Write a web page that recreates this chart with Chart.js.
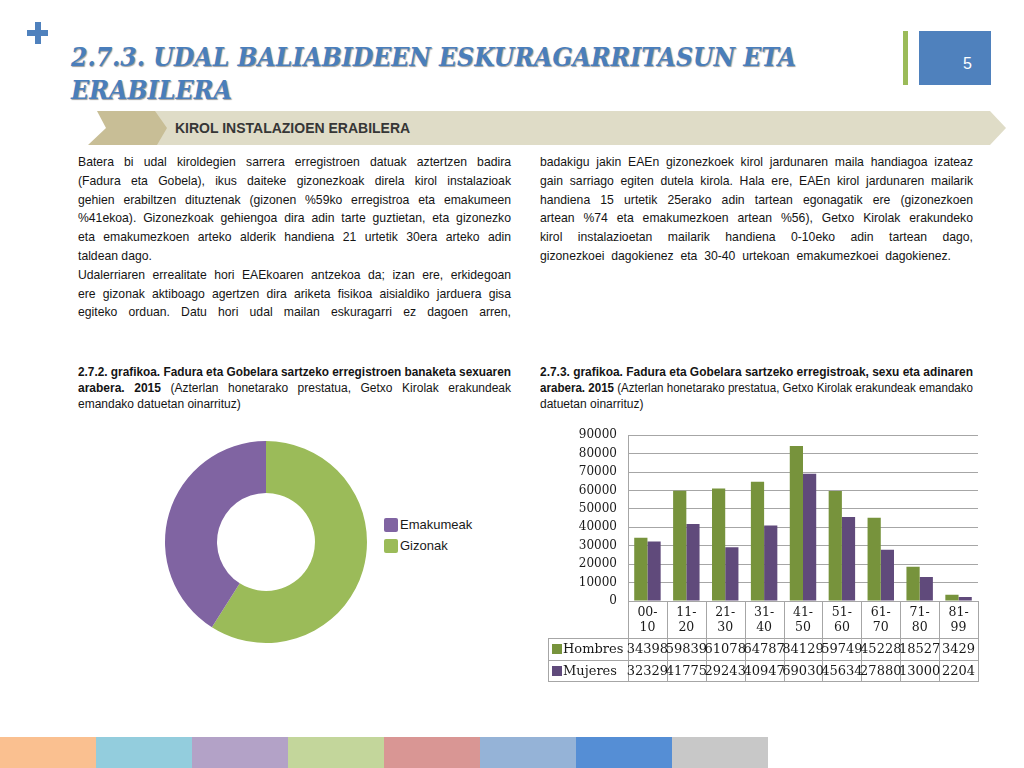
<!DOCTYPE html>
<html>
<head>
<meta charset="utf-8">
<script src="https://cdn.jsdelivr.net/npm/chart.js@4.4.1/dist/chart.umd.min.js"></script>
<style>
  body { margin: 0; width: 1024px; height: 768px; position: relative; overflow: hidden; background: #fff;
         font-family: "Liberation Sans", Arial, sans-serif; color: #141414; }
  .abs { position: absolute; }
  .ln { white-space: nowrap; }
  .ln > span { white-space: nowrap; }
  .title { font-family: "DejaVu Serif", serif; font-weight: bold; font-style: italic; font-size: 26px;
           line-height: 33px; color: #4a7ebb; text-shadow: 1px 1px 1px rgba(40,40,40,0.45); }
  .para { font-size: 12.2px; line-height: 18.8px; }
  .cap { font-size: 12px; line-height: 16px; }
  .strip { position: absolute; top: 737px; height: 31px; width: 96px; }
  .leg { position: absolute; left: 384px; font-size: 13px; line-height: 15px; color: #1a1a1a; }
  .leg i { display: inline-block; width: 14px; height: 14px; border-radius: 2px; vertical-align: -3px; margin-right: 2px; }
</style>
</head>
<body>

<!-- plus sign -->
<div class="abs" style="left:27px;top:30px;width:21px;height:6px;background:#4f81bd"></div>
<div class="abs" style="left:34.5px;top:22px;width:6px;height:22px;background:#4f81bd"></div>

<div id="title" class="abs title" style="left:71px;top:41px"></div>

<!-- page number -->
<div class="abs" style="left:903px;top:31px;width:5px;height:54px;background:#9bbb59"></div>
<div class="abs" style="left:919px;top:31px;width:72px;height:54px;background:#4f81bd"></div>
<div class="abs" style="left:963px;top:55px;font-size:16px;color:#fff">5</div>

<!-- section band -->
<svg class="abs" style="left:0;top:0" width="1024" height="160">
  <polygon points="150,111 990,111 1006,128 990,145 150,145" fill="#dfdcc7"/>
  <polygon points="97,111 155,111 167,128 157,145 88,145 106,128" fill="#c8be96"/>
</svg>
<div id="band" class="abs" style="left:175px;top:119px;font-size:14px;font-weight:bold;color:#363636;line-height:18px"></div>

<div id="paraL" class="abs para" style="left:78px;top:153px"></div>
<div id="paraR" class="abs para" style="left:540px;top:153px"></div>
<div id="capL" class="abs cap" style="left:78px;top:364px"></div>
<div id="capR" class="abs cap" style="left:540px;top:364px"></div>

<canvas id="donut" class="abs" style="left:160px;top:436px" width="212" height="212"></canvas>
<div id="donutLegend"></div>
<canvas id="bars" class="abs" style="left:540px;top:417px" width="445" height="270"></canvas>

<div class="strip" style="left:0;background:#fac090"></div>
<div class="strip" style="left:96px;background:#93cddd"></div>
<div class="strip" style="left:192px;background:#b3a2c7"></div>
<div class="strip" style="left:288px;background:#c3d69b"></div>
<div class="strip" style="left:384px;background:#d99694"></div>
<div class="strip" style="left:480px;background:#95b3d7"></div>
<div class="strip" style="left:576px;background:#558ed5"></div>
<div class="strip" style="left:672px;background:#c8c8c8"></div>

<script>
// chart data
const sexLabels = ['Gizonak', 'Emakumeak'];
const sexShare = [59, 41];

const ageGroups = [['00-', '10'], ['11-', '20'], ['21-', '30'], ['31-', '40'], ['41-', '50'],
                   ['51-', '60'], ['61-', '70'], ['71-', '80'], ['81-', '99']];
const hombres = [34398, 59839, 61078, 64787, 84129, 59749, 45228, 18527, 3429];
const mujeres = [32329, 41775, 29243, 40947, 69030, 45634, 27880, 13000, 2204];
const yTicks = [0, 10000, 20000, 30000, 40000, 50000, 60000, 70000, 80000, 90000];

// slide text, one entry per printed line; j = justified, optional third item = printed width
const titleLines = [
  ['2.7.3. UDAL BALIABIDEEN ESKURAGARRITASUN ETA', 725],
  ['ERABILERA', 161]
];
const paraLeft = [
  ['Batera bi udal kiroldegien sarrera erregistroen datuak aztertzen badira', 1],
  ['(Fadura eta Gobela), ikus daiteke gizonezkoak direla kirol instalazioak', 1],
  ['gehien erabiltzen dituztenak (gizonen %59ko erregistroa eta emakumeen', 1],
  ['%41ekoa). Gizonezkoak gehiengoa dira adin tarte guztietan, eta gizonezko', 1],
  ['eta emakumezkoen arteko alderik handiena 21 urtetik 30era arteko adin', 1],
  ['taldean dago.', 0],
  ['Udalerriaren errealitate hori EAEkoaren antzekoa da; izan ere, erkidegoan', 1],
  ['ere gizonak aktiboago agertzen dira ariketa fisikoa aisialdiko jarduera gisa', 1],
  ['egiteko orduan. Datu hori udal mailan eskuragarri ez dagoen arren,', 1]
];
const paraRight = [
  ['badakigu jakin EAEn gizonezkoek kirol jardunaren maila handiagoa izateaz', 1],
  ['gain sarriago egiten dutela kirola. Hala ere, EAEn kirol jardunaren mailarik', 1],
  ['handiena 15 urtetik 25erako adin tartean egonagatik ere (gizonezkoen', 1],
  ['artean %74 eta emakumezkoen artean %56), Getxo Kirolak erakundeko', 1],
  ['kirol instalazioetan mailarik handiena 0-10eko adin tartean dago,', 1],
  ['gizonezkoei dagokienez eta 30-40 urtekoan emakumezkoei dagokienez.', 1, 411]
];
const capLeft = [
  ['<b>2.7.2. grafikoa. Fadura eta Gobelara sartzeko erregistroen banaketa sexuaren</b>', 1],
  ['<b>arabera. 2015</b> (Azterlan honetarako prestatua, Getxo Kirolak erakundeak', 1],
  ['emandako datuetan oinarrituz)', 0]
];
const capRight = [
  ['<b>2.7.3. grafikoa. Fadura eta Gobelara sartzeko erregistroak, sexu eta adinaren</b>', 1],
  ['<b>arabera. 2015</b> (Azterlan honetarako prestatua, Getxo Kirolak erakundeak emandako', 1],
  ['datuetan oinarrituz)', 0]
];

// squeeze or stretch a line to its printed width
function fitLine(div, w, justify) {
  const span = div.firstElementChild;
  const nat = span.getBoundingClientRect().width;
  if (nat > w) {
    span.style.display = 'inline-block';
    span.style.transformOrigin = '0 0';
    span.style.transform = 'scaleX(' + (w / nat) + ')';
  } else if (justify) {
    const gaps = (span.textContent.trim().match(/ +/g) || []).length;
    if (gaps) span.style.wordSpacing = ((w - nat) / gaps) + 'px';
  }
}

function writeLines(id, lines, w) {
  const box = document.getElementById(id);
  lines.forEach(([html, j, lw]) => {
    const d = document.createElement('div');
    d.className = 'ln';
    d.innerHTML = '<span>' + html + '</span>';
    box.appendChild(d);
    fitLine(d, lw || w, j);
  });
}

writeLines('title', titleLines.map(([t]) => [t, 0]), 9999);
Array.from(document.getElementById('title').children).forEach((d, i) => fitLine(d, titleLines[i][1], 0));

const band = document.getElementById('band');
band.innerHTML = '<div class="ln"><span>KIROL INSTALAZIOEN ERABILERA</span></div>';
fitLine(band.firstElementChild, 262, 0);

writeLines('paraL', paraLeft, 433);
writeLines('paraR', paraRight, 433);
writeLines('capL', capLeft, 433);
writeLines('capR', capRight, 433);

Chart.defaults.font.family = '"Liberation Sans", Arial, sans-serif';
Chart.defaults.color = '#1a1a1a';
Chart.defaults.animation = false;

const donutColors = ['#9bbb59', '#8064a2'];
const donut = new Chart(document.getElementById('donut'), {
  type: 'doughnut',
  data: {
    labels: sexLabels,
    datasets: [{ data: sexShare, backgroundColor: donutColors, borderWidth: 0 }]
  },
  options: {
    responsive: false,
    cutout: '48.5%',
    layout: { padding: 5 },
    plugins: { tooltip: { enabled: false }, legend: { display: false } }
  }
});

// legend next to the doughnut, listed bottom slice first as on the slide
const legendBox = document.getElementById('donutLegend');
donut.data.labels.slice().reverse().forEach((lab, k) => {
  const idx = donut.data.labels.indexOf(lab);
  const d = document.createElement('div');
  d.className = 'leg';
  d.style.top = (517 + k * 20.5) + 'px';
  d.innerHTML = '<i style="background:' + donutColors[idx] + '"></i>' + lab;
  legendBox.appendChild(d);
});

// data table under the bar chart, drawn from the datasets and the x scale
const dataTable = {
  id: 'dataTable',
  afterDraw(chart) {
    const { ctx, chartArea: a, scales: { x } } = chart;
    const n = chart.data.labels.length;
    const cw = (a.right - a.left) / n;
    const r0 = a.bottom + 37, r1 = r0 + 22, r2 = r1 + 21;
    const left = 8;
    const px = v => Math.round(v) + 0.5;
    ctx.save();
    ctx.strokeStyle = '#a6a6a6';
    ctx.lineWidth = 1;
    ctx.beginPath();
    for (let i = 0; i <= n; i++) {
      ctx.moveTo(px(a.left + i * cw), a.bottom);
      ctx.lineTo(px(a.left + i * cw), px(r2));
    }
    [r0, r1, r2].forEach(yy => { ctx.moveTo(left, px(yy)); ctx.lineTo(a.right + 1, px(yy)); });
    ctx.moveTo(px(left), px(r0));
    ctx.lineTo(px(left), px(r2));
    ctx.stroke();
    ctx.textBaseline = 'middle';
    ctx.font = '13px "DejaVu Serif", serif';
    chart.data.datasets.forEach((ds, k) => {
      const cy = k === 0 ? (r0 + r1) / 2 : (r1 + r2) / 2;
      ctx.fillStyle = ds.backgroundColor;
      ctx.fillRect(left + 4, Math.round(cy - 5), 10, 10);
      ctx.fillStyle = '#1a1a1a';
      ctx.textAlign = 'left';
      ctx.fillText(ds.label, left + 15, cy + 1);
      ctx.textAlign = 'center';
      ds.data.forEach((v, i) => ctx.fillText(String(v), x.getPixelForValue(i), cy + 1));
    });
    ctx.restore();
  }
};

new Chart(document.getElementById('bars'), {
  type: 'bar',
  data: {
    labels: ageGroups,
    datasets: [
      { label: 'Hombres', data: hombres, backgroundColor: '#77933c', barPercentage: 1, categoryPercentage: 0.68 },
      { label: 'Mujeres', data: mujeres, backgroundColor: '#604a7b', barPercentage: 1, categoryPercentage: 0.68 }
    ]
  },
  options: {
    responsive: false,
    layout: { padding: { left: 8, right: 7, top: 2, bottom: 49 } },
    plugins: { legend: { display: false }, tooltip: { enabled: false } },
    scales: {
      x: {
        grid: { display: false, drawTicks: false },
        border: { display: false },
        afterFit: s => { s.height = 37; },
        ticks: { padding: 4, color: '#1a1a1a', font: { family: '"DejaVu Serif", serif', size: 12.5, lineHeight: 1.2 } }
      },
      y: {
        min: 0,
        max: 90000,
        afterFit: s => { s.width = 80; },
        afterBuildTicks: s => { s.ticks = yTicks.map(v => ({ value: v })); },
        grid: { color: '#a6a6a6', drawTicks: false },
        border: { color: '#a6a6a6' },
        ticks: { padding: 11, color: '#1a1a1a', callback: v => String(v),
                 font: { family: '"DejaVu Serif", serif', size: 12 } }
      }
    }
  },
  plugins: [dataTable]
});
</script>
</body>
</html>
